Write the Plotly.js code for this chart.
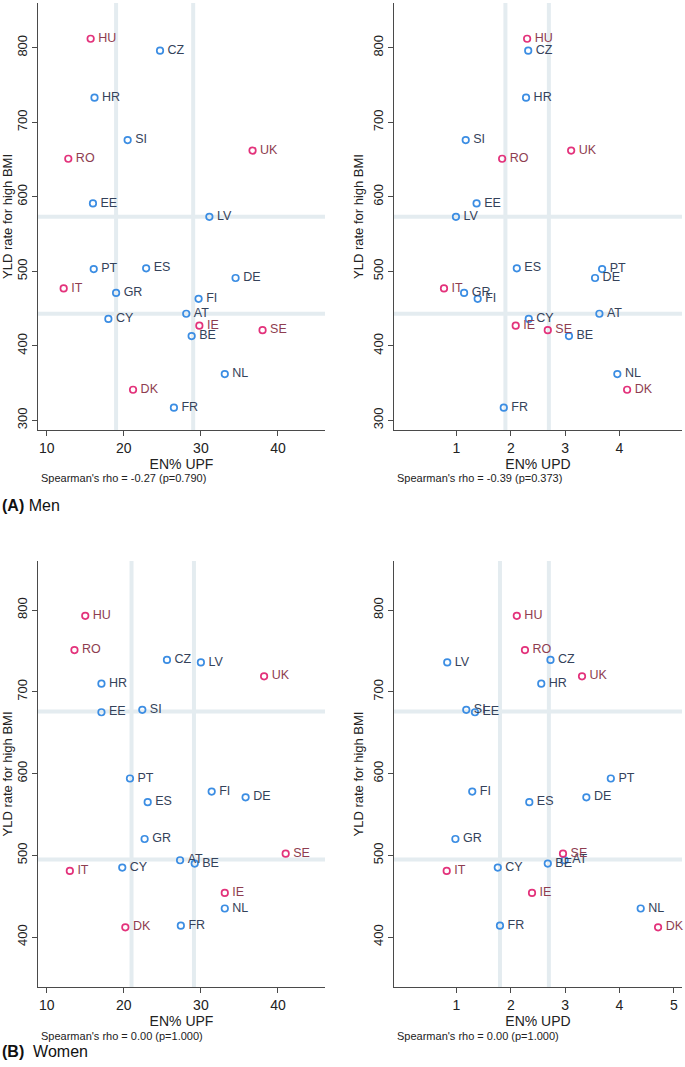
<!DOCTYPE html>
<html>
<head>
<meta charset="utf-8">
<script src="https://cdn.plot.ly/plotly-3.0.1.min.js"></script>
<style>html,body{margin:0;padding:0;background:#fff;}#chart{width:685px;height:1067px;}</style>
</head>
<body>
<div id="chart"></div>
<script>
// ---- data ----
const countries = ['HU','CZ','HR','SI','RO','UK','EE','LV','PT','ES','DE','IT','GR','FI','AT','CY','IE','SE','BE','NL','DK','FR'];
const highlighted = ['HU','RO','UK','IT','IE','SE','DK'];

const menUpf = [15.7,24.7,16.2,20.5,12.8,36.7,16.0,31.1,16.1,22.9,34.5,12.2,19.0,29.7,28.1,18.0,29.8,38.0,28.8,33.1,21.2,26.5];
const menUpd = [2.30,2.32,2.28,1.17,1.84,3.11,1.37,0.99,3.68,2.11,3.55,0.77,1.14,1.39,3.63,2.33,2.09,2.68,3.07,3.96,4.14,1.87];
const menYld = [812,796,733,676,651,662,591,573,503,504,491,477,471,463,443,436,427,421,413,362,341,317];

const womenUpf = [15.0,25.6,17.1,22.4,13.6,38.2,17.1,30.0,20.8,23.1,35.8,13.0,22.7,31.4,27.3,19.8,33.1,41.0,29.2,33.1,20.2,27.4];
const womenUpd = [2.11,2.73,2.56,1.18,2.26,3.31,1.34,0.83,3.84,2.34,3.39,0.82,0.98,1.29,2.99,1.76,2.39,2.96,2.68,4.39,4.71,1.80];
const womenYld = [793,739,710,678,751,719,675,736,594,565,571,481,520,578,494,485,454,502,490,435,412,414];

const menUpfCuts = [19.0, 29.0];
const menUpdCuts = [1.90, 2.70];
const menYldCuts = [443, 573];
const womenUpfCuts = [21.0, 29.1];
const womenUpdCuts = [1.80, 2.70];
const womenYldCuts = [495, 676];

const rhoTexts = ["Spearman's rho = -0.27 (p=0.790)", "Spearman's rho = -0.39 (p=0.373)",
                  "Spearman's rho = 0.00 (p=1.000)", "Spearman's rho = 0.00 (p=1.000)"];
const panelLabels = ['<b>(A)</b> Men', '<b>(B)</b>  Women'];
const xTitles = ['EN% UPF', 'EN% UPD'];
const yTitle = 'YLD rate for high BMI';

// ---- styling ----
const FONT = 'Liberation Sans, Arial, sans-serif';
const PINK = '#e3327b', PINK_TXT = '#8e3d50';
const BLUE = '#3b8de3', BLUE_TXT = '#34425a';
const REF = '#e4ecf0';
const AX = '#4a4a4a';

const W = 685, H = 1067;
const px = v => v / W;
const py = v => 1 - v / H;

const mColors = countries.map(c => highlighted.includes(c) ? PINK : BLUE);
const tColors = countries.map(c => highlighted.includes(c) ? PINK_TXT : BLUE_TXT);

function trace(x, y, xa, ya) {
  return {
    type: 'scatter', mode: 'markers+text', x: x, y: y, text: countries,
    texttemplate: '\u2009%{text}',
    xaxis: xa, yaxis: ya, textposition: 'middle right',
    textfont: {family: FONT, size: 12.5, color: tColors},
    marker: {symbol: 'circle-open', size: 6.5, color: mColors, line: {width: 1.7, color: mColors}},
    cliponaxis: false, hoverinfo: 'skip'
  };
}

const data = [
  trace(menUpf, menYld, 'x', 'y'),
  trace(menUpd, menYld, 'x2', 'y2'),
  trace(womenUpf, womenYld, 'x3', 'y3'),
  trace(womenUpd, womenYld, 'x4', 'y4')
];

function xaxis(dom, anchor, range, tickvals, title) {
  return {
    domain: dom, anchor: anchor, range: range, tickvals: tickvals,
    showline: true, linecolor: AX, linewidth: 1, ticks: 'outside', ticklen: 5, tickcolor: AX,
    showgrid: false, zeroline: false, automargin: false,
    tickfont: {family: FONT, size: 14, color: '#222'},
    title: {text: title, font: {family: FONT, size: 14, color: '#222'}, standoff: 0}
  };
}
function yaxis(dom, anchor, range, tickvals) {
  return {
    domain: dom, anchor: anchor, range: range, tickvals: tickvals, tickangle: -90,
    showline: true, linecolor: AX, linewidth: 1, ticks: 'outside', ticklen: 5, tickcolor: AX,
    showgrid: false, zeroline: false, automargin: false,
    tickfont: {family: FONT, size: 13, color: '#222'},
    title: {text: yTitle, font: {family: FONT, size: 13, color: '#222'}, standoff: 4}
  };
}

const xL = [px(38), px(325)], xR = [px(394), px(682)];
const yT = [py(430), py(3)], yB = [py(987), py(561)];
const upfRange = [8.87, 46.1], updRange = [-0.15, 5.15];
const menY = [287, 860], womenY = [339, 860];

const layout = {
  width: W, height: H, margin: {l: 0, r: 0, t: 0, b: 0},
  paper_bgcolor: '#fff', plot_bgcolor: '#fff', showlegend: false,
  font: {family: FONT},
  xaxis: xaxis(xL, 'y', upfRange, [10,20,30,40], xTitles[0]),
  yaxis: yaxis(yT, 'x', menY, [300,400,500,600,700,800]),
  xaxis2: xaxis(xR, 'y2', updRange, [1,2,3,4], xTitles[1]),
  yaxis2: yaxis(yT, 'x2', menY, [300,400,500,600,700,800]),
  xaxis3: xaxis(xL, 'y3', upfRange, [10,20,30,40], xTitles[0]),
  yaxis3: yaxis(yB, 'x3', womenY, [400,500,600,700,800]),
  xaxis4: xaxis(xR, 'y4', updRange, [1,2,3,4,5], xTitles[1]),
  yaxis4: yaxis(yB, 'x4', womenY, [400,500,600,700,800]),
  shapes: [],
  annotations: []
};

function refLines(xa, ya, xc, yc) {
  xc.forEach(v => layout.shapes.push({type: 'line', xref: xa, yref: ya + ' domain', x0: v, x1: v, y0: 0, y1: 1,
    line: {color: REF, width: 4}, layer: 'below'}));
  yc.forEach(v => layout.shapes.push({type: 'line', xref: xa + ' domain', yref: ya, x0: 0, x1: 1, y0: v, y1: v,
    line: {color: REF, width: 4}, layer: 'below'}));
}
refLines('x', 'y', menUpfCuts, menYldCuts);
refLines('x2', 'y2', menUpdCuts, menYldCuts);
refLines('x3', 'y3', womenUpfCuts, womenYldCuts);
refLines('x4', 'y4', womenUpdCuts, womenYldCuts);

function ann(text, x, y, size, color) {
  layout.annotations.push({text: text, xref: 'paper', yref: 'paper', x: px(x), y: py(y),
    xanchor: 'left', yanchor: 'middle', showarrow: false, font: {family: FONT, size: size, color: color}});
}
ann(rhoTexts[0], 39, 478, 11, '#222');
ann(rhoTexts[1], 395, 478, 11, '#222');
ann(rhoTexts[2], 39, 1036, 11, '#222');
ann(rhoTexts[3], 395, 1036, 11, '#222');
ann(panelLabels[0], 0, 505, 16, '#111');
ann(panelLabels[1], 0, 1051, 16, '#111');

Plotly.newPlot('chart', data, layout, {staticPlot: true, displayModeBar: false});
</script>
</body>
</html>
